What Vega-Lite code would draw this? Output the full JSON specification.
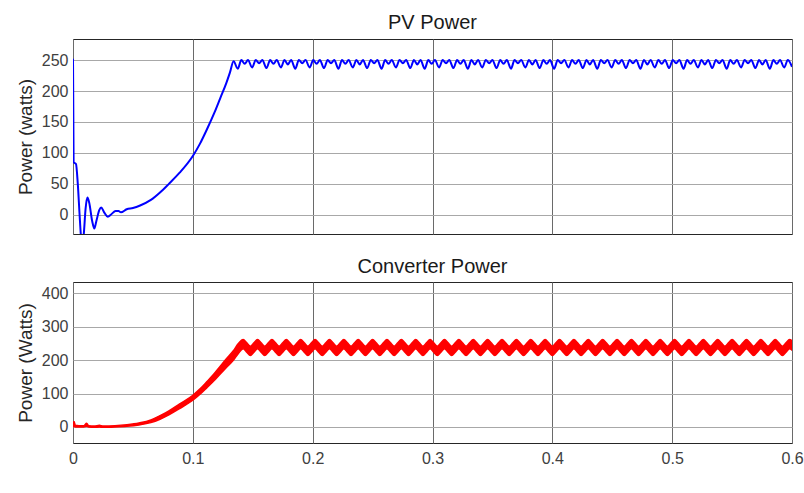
{
  "$schema": "https://vega.github.io/schema/vega-lite/v6.json",
  "padding": {"left": 15, "top": 12, "right": 10, "bottom": 5},
  "background": "white",
  "spacing": 21,
  "config": {
    "view": {"stroke": "#262626", "strokeWidth": 1},
    "font": "Liberation Sans",
    "axis": {
      "labelFont": "Liberation Sans",
      "labelFontSize": 16,
      "labelColor": "#404040",
      "titleFont": "Liberation Sans",
      "titleFontSize": 19,
      "titleFontWeight": "normal",
      "titleColor": "#262626",
      "ticks": false,
      "domain": false,
      "gridColor": "#a8a8a8",
      "gridOpacity": 1,
      "gridWidth": 1
    },
    "title": {"font": "Liberation Sans", "fontSize": 20, "fontWeight": "normal", "color": "#1a1a1a", "baseline": "alphabetic", "anchor": "middle"}
  },
  "datasets": {
    "pv": [
      {"t": 0, "p": 252}, {"t": 0.0005, "p": 85}, {"t": 0.0025, "p": 82}, {"t": 0.004, "p": 50},
      {"t": 0.0055, "p": 0}, {"t": 0.0065, "p": -31}, {"t": 0.0075, "p": -50}, {"t": 0.009, "p": -31},
      {"t": 0.0105, "p": 10}, {"t": 0.012, "p": 28}, {"t": 0.0135, "p": 20}, {"t": 0.016, "p": -10},
      {"t": 0.0178, "p": -22}, {"t": 0.0195, "p": -10}, {"t": 0.022, "p": 8}, {"t": 0.0235, "p": 12},
      {"t": 0.026, "p": 4}, {"t": 0.029, "p": -3}, {"t": 0.032, "p": 1}, {"t": 0.0355, "p": 6},
      {"t": 0.038, "p": 6}, {"t": 0.04, "p": 4}, {"t": 0.0448, "p": 9}, {"t": 0.05, "p": 11},
      {"t": 0.056, "p": 15}, {"t": 0.065, "p": 24}, {"t": 0.0726, "p": 36}, {"t": 0.08, "p": 50},
      {"t": 0.089, "p": 68}, {"t": 0.1, "p": 95}, {"t": 0.106, "p": 115}, {"t": 0.112, "p": 139},
      {"t": 0.118, "p": 165}, {"t": 0.123, "p": 189}, {"t": 0.128, "p": 213}, {"t": 0.131, "p": 230},
      {"t": 0.134, "p": 248},
      {"t": 0.1375, "p": 236}, {"t": 0.1405, "p": 250}, {"t": 0.1433, "p": 244}, {"t": 0.146, "p": 250},
      {"t": 0.1495, "p": 238}, {"t": 0.1525, "p": 250}, {"t": 0.1553, "p": 245}, {"t": 0.158, "p": 250},
      {"t": 0.1615, "p": 237}, {"t": 0.1645, "p": 250}, {"t": 0.1673, "p": 244}, {"t": 0.17, "p": 250},
      {"t": 0.1735, "p": 238}, {"t": 0.1765, "p": 250}, {"t": 0.1793, "p": 243}, {"t": 0.182, "p": 250},
      {"t": 0.1855, "p": 236}, {"t": 0.1885, "p": 250}, {"t": 0.1913, "p": 245}, {"t": 0.194, "p": 250},
      {"t": 0.1975, "p": 238}, {"t": 0.2005, "p": 250}, {"t": 0.2033, "p": 244}, {"t": 0.206, "p": 250},
      {"t": 0.2095, "p": 237}, {"t": 0.2125, "p": 250}, {"t": 0.2153, "p": 245}, {"t": 0.218, "p": 250},
      {"t": 0.2215, "p": 236}, {"t": 0.2245, "p": 250}, {"t": 0.2273, "p": 244}, {"t": 0.23, "p": 250},
      {"t": 0.2335, "p": 238}, {"t": 0.2365, "p": 250}, {"t": 0.2393, "p": 243}, {"t": 0.242, "p": 250},
      {"t": 0.2455, "p": 237}, {"t": 0.2485, "p": 250}, {"t": 0.2513, "p": 245}, {"t": 0.254, "p": 250},
      {"t": 0.2575, "p": 236}, {"t": 0.2605, "p": 250}, {"t": 0.2633, "p": 244}, {"t": 0.266, "p": 250},
      {"t": 0.2695, "p": 238}, {"t": 0.2725, "p": 250}, {"t": 0.2753, "p": 245}, {"t": 0.278, "p": 250},
      {"t": 0.2815, "p": 237}, {"t": 0.2845, "p": 250}, {"t": 0.2873, "p": 243}, {"t": 0.29, "p": 250},
      {"t": 0.2935, "p": 236}, {"t": 0.2965, "p": 250}, {"t": 0.2993, "p": 244}, {"t": 0.302, "p": 250},
      {"t": 0.3055, "p": 238}, {"t": 0.3085, "p": 250}, {"t": 0.3113, "p": 245}, {"t": 0.314, "p": 250},
      {"t": 0.3175, "p": 237}, {"t": 0.3205, "p": 250}, {"t": 0.3233, "p": 244}, {"t": 0.326, "p": 250},
      {"t": 0.3295, "p": 236}, {"t": 0.3325, "p": 250}, {"t": 0.3353, "p": 243}, {"t": 0.338, "p": 250},
      {"t": 0.3415, "p": 238}, {"t": 0.3445, "p": 250}, {"t": 0.3473, "p": 245}, {"t": 0.35, "p": 250},
      {"t": 0.3535, "p": 237}, {"t": 0.3565, "p": 250}, {"t": 0.3593, "p": 244}, {"t": 0.362, "p": 250},
      {"t": 0.3655, "p": 236}, {"t": 0.3685, "p": 250}, {"t": 0.3713, "p": 245}, {"t": 0.374, "p": 250},
      {"t": 0.3775, "p": 238}, {"t": 0.3805, "p": 250}, {"t": 0.3833, "p": 243}, {"t": 0.386, "p": 250},
      {"t": 0.3895, "p": 237}, {"t": 0.3925, "p": 250}, {"t": 0.3953, "p": 244}, {"t": 0.398, "p": 250},
      {"t": 0.4015, "p": 236}, {"t": 0.4045, "p": 250}, {"t": 0.4073, "p": 245}, {"t": 0.41, "p": 250},
      {"t": 0.4135, "p": 238}, {"t": 0.4165, "p": 250}, {"t": 0.4193, "p": 244}, {"t": 0.422, "p": 250},
      {"t": 0.4255, "p": 237}, {"t": 0.4285, "p": 250}, {"t": 0.4313, "p": 243}, {"t": 0.434, "p": 250},
      {"t": 0.4375, "p": 236}, {"t": 0.4405, "p": 250}, {"t": 0.4433, "p": 245}, {"t": 0.446, "p": 250},
      {"t": 0.4495, "p": 238}, {"t": 0.4525, "p": 250}, {"t": 0.4553, "p": 244}, {"t": 0.458, "p": 250},
      {"t": 0.4615, "p": 237}, {"t": 0.4645, "p": 250}, {"t": 0.4673, "p": 245}, {"t": 0.47, "p": 250},
      {"t": 0.4735, "p": 236}, {"t": 0.4765, "p": 250}, {"t": 0.4793, "p": 243}, {"t": 0.482, "p": 250},
      {"t": 0.4855, "p": 238}, {"t": 0.4885, "p": 250}, {"t": 0.4913, "p": 244}, {"t": 0.494, "p": 250},
      {"t": 0.4975, "p": 237}, {"t": 0.5005, "p": 250}, {"t": 0.5033, "p": 245}, {"t": 0.506, "p": 250},
      {"t": 0.5095, "p": 236}, {"t": 0.5125, "p": 250}, {"t": 0.5153, "p": 244}, {"t": 0.518, "p": 250},
      {"t": 0.5215, "p": 238}, {"t": 0.5245, "p": 250}, {"t": 0.5273, "p": 243}, {"t": 0.53, "p": 250},
      {"t": 0.5335, "p": 237}, {"t": 0.5365, "p": 250}, {"t": 0.5393, "p": 245}, {"t": 0.542, "p": 250},
      {"t": 0.5455, "p": 236}, {"t": 0.5485, "p": 250}, {"t": 0.5513, "p": 244}, {"t": 0.554, "p": 250},
      {"t": 0.5575, "p": 238}, {"t": 0.5605, "p": 250}, {"t": 0.5633, "p": 245}, {"t": 0.566, "p": 250},
      {"t": 0.5695, "p": 237}, {"t": 0.5725, "p": 250}, {"t": 0.5753, "p": 243}, {"t": 0.578, "p": 250},
      {"t": 0.5815, "p": 236}, {"t": 0.5845, "p": 250}, {"t": 0.5873, "p": 244}, {"t": 0.59, "p": 250},
      {"t": 0.5935, "p": 238}, {"t": 0.5965, "p": 250}, {"t": 0.6, "p": 239}
    ],
    "conv": [
      {"t": 0, "lo": 0, "hi": 6}, {"t": 0.0008, "lo": 2, "hi": 16}, {"t": 0.002, "lo": 0, "hi": 5},
      {"t": 0.005, "lo": 0, "hi": 4}, {"t": 0.009, "lo": 0, "hi": 4}, {"t": 0.0114, "lo": 2, "hi": 11},
      {"t": 0.013, "lo": 0, "hi": 4}, {"t": 0.018, "lo": -1, "hi": 3}, {"t": 0.022, "lo": 0, "hi": 5},
      {"t": 0.025, "lo": -1, "hi": 3}, {"t": 0.035, "lo": 0, "hi": 4}, {"t": 0.045, "lo": 2, "hi": 7},
      {"t": 0.055, "lo": 6, "hi": 12}, {"t": 0.065, "lo": 13, "hi": 21}, {"t": 0.0726, "lo": 23, "hi": 34},
      {"t": 0.08, "lo": 36, "hi": 48}, {"t": 0.089, "lo": 55, "hi": 69}, {"t": 0.1, "lo": 80, "hi": 95},
      {"t": 0.106, "lo": 98, "hi": 114}, {"t": 0.1116, "lo": 117, "hi": 135}, {"t": 0.117, "lo": 136, "hi": 156},
      {"t": 0.1227, "lo": 158, "hi": 181}, {"t": 0.128, "lo": 178, "hi": 204}, {"t": 0.1338, "lo": 200, "hi": 228},
      {"t": 0.138, "lo": 220, "hi": 250},
      {"t": 0.142, "lo": 234, "hi": 262}, {"t": 0.145, "lo": 224, "hi": 252}, {"t": 0.148, "lo": 214, "hi": 242}, {"t": 0.151, "lo": 224, "hi": 252},
      {"t": 0.154, "lo": 234, "hi": 262}, {"t": 0.157, "lo": 224, "hi": 252}, {"t": 0.16, "lo": 214, "hi": 242}, {"t": 0.163, "lo": 224, "hi": 252},
      {"t": 0.166, "lo": 234, "hi": 262}, {"t": 0.169, "lo": 224, "hi": 252}, {"t": 0.172, "lo": 214, "hi": 242}, {"t": 0.175, "lo": 224, "hi": 252},
      {"t": 0.178, "lo": 234, "hi": 262}, {"t": 0.181, "lo": 224, "hi": 252}, {"t": 0.184, "lo": 214, "hi": 242}, {"t": 0.187, "lo": 224, "hi": 252},
      {"t": 0.19, "lo": 234, "hi": 262}, {"t": 0.193, "lo": 224, "hi": 252}, {"t": 0.196, "lo": 214, "hi": 242}, {"t": 0.199, "lo": 224, "hi": 252},
      {"t": 0.202, "lo": 234, "hi": 262}, {"t": 0.205, "lo": 224, "hi": 252}, {"t": 0.208, "lo": 214, "hi": 242}, {"t": 0.211, "lo": 224, "hi": 252},
      {"t": 0.214, "lo": 234, "hi": 262}, {"t": 0.217, "lo": 224, "hi": 252}, {"t": 0.22, "lo": 214, "hi": 242}, {"t": 0.223, "lo": 224, "hi": 252},
      {"t": 0.226, "lo": 234, "hi": 262}, {"t": 0.229, "lo": 224, "hi": 252}, {"t": 0.232, "lo": 214, "hi": 242}, {"t": 0.235, "lo": 224, "hi": 252},
      {"t": 0.238, "lo": 234, "hi": 262}, {"t": 0.241, "lo": 224, "hi": 252}, {"t": 0.244, "lo": 214, "hi": 242}, {"t": 0.247, "lo": 224, "hi": 252},
      {"t": 0.25, "lo": 234, "hi": 262}, {"t": 0.253, "lo": 224, "hi": 252}, {"t": 0.256, "lo": 214, "hi": 242}, {"t": 0.259, "lo": 224, "hi": 252},
      {"t": 0.262, "lo": 234, "hi": 262}, {"t": 0.265, "lo": 224, "hi": 252}, {"t": 0.268, "lo": 214, "hi": 242}, {"t": 0.271, "lo": 224, "hi": 252},
      {"t": 0.274, "lo": 234, "hi": 262}, {"t": 0.277, "lo": 224, "hi": 252}, {"t": 0.28, "lo": 214, "hi": 242}, {"t": 0.283, "lo": 224, "hi": 252},
      {"t": 0.286, "lo": 234, "hi": 262}, {"t": 0.289, "lo": 224, "hi": 252}, {"t": 0.292, "lo": 214, "hi": 242}, {"t": 0.295, "lo": 224, "hi": 252},
      {"t": 0.298, "lo": 234, "hi": 262}, {"t": 0.301, "lo": 224, "hi": 252}, {"t": 0.304, "lo": 214, "hi": 242}, {"t": 0.307, "lo": 224, "hi": 252},
      {"t": 0.31, "lo": 234, "hi": 262}, {"t": 0.313, "lo": 224, "hi": 252}, {"t": 0.316, "lo": 214, "hi": 242}, {"t": 0.319, "lo": 224, "hi": 252},
      {"t": 0.322, "lo": 234, "hi": 262}, {"t": 0.325, "lo": 224, "hi": 252}, {"t": 0.328, "lo": 214, "hi": 242}, {"t": 0.331, "lo": 224, "hi": 252},
      {"t": 0.334, "lo": 234, "hi": 262}, {"t": 0.337, "lo": 224, "hi": 252}, {"t": 0.34, "lo": 214, "hi": 242}, {"t": 0.343, "lo": 224, "hi": 252},
      {"t": 0.346, "lo": 234, "hi": 262}, {"t": 0.349, "lo": 224, "hi": 252}, {"t": 0.352, "lo": 214, "hi": 242}, {"t": 0.355, "lo": 224, "hi": 252},
      {"t": 0.358, "lo": 234, "hi": 262}, {"t": 0.361, "lo": 224, "hi": 252}, {"t": 0.364, "lo": 214, "hi": 242}, {"t": 0.367, "lo": 224, "hi": 252},
      {"t": 0.37, "lo": 234, "hi": 262}, {"t": 0.373, "lo": 224, "hi": 252}, {"t": 0.376, "lo": 214, "hi": 242}, {"t": 0.379, "lo": 224, "hi": 252},
      {"t": 0.382, "lo": 234, "hi": 262}, {"t": 0.385, "lo": 224, "hi": 252}, {"t": 0.388, "lo": 214, "hi": 242}, {"t": 0.391, "lo": 224, "hi": 252},
      {"t": 0.394, "lo": 234, "hi": 262}, {"t": 0.397, "lo": 224, "hi": 252}, {"t": 0.4, "lo": 214, "hi": 242}, {"t": 0.403, "lo": 224, "hi": 252},
      {"t": 0.406, "lo": 234, "hi": 262}, {"t": 0.409, "lo": 224, "hi": 252}, {"t": 0.412, "lo": 214, "hi": 242}, {"t": 0.415, "lo": 224, "hi": 252},
      {"t": 0.418, "lo": 234, "hi": 262}, {"t": 0.421, "lo": 224, "hi": 252}, {"t": 0.424, "lo": 214, "hi": 242}, {"t": 0.427, "lo": 224, "hi": 252},
      {"t": 0.43, "lo": 234, "hi": 262}, {"t": 0.433, "lo": 224, "hi": 252}, {"t": 0.436, "lo": 214, "hi": 242}, {"t": 0.439, "lo": 224, "hi": 252},
      {"t": 0.442, "lo": 234, "hi": 262}, {"t": 0.445, "lo": 224, "hi": 252}, {"t": 0.448, "lo": 214, "hi": 242}, {"t": 0.451, "lo": 224, "hi": 252},
      {"t": 0.454, "lo": 234, "hi": 262}, {"t": 0.457, "lo": 224, "hi": 252}, {"t": 0.46, "lo": 214, "hi": 242}, {"t": 0.463, "lo": 224, "hi": 252},
      {"t": 0.466, "lo": 234, "hi": 262}, {"t": 0.469, "lo": 224, "hi": 252}, {"t": 0.472, "lo": 214, "hi": 242}, {"t": 0.475, "lo": 224, "hi": 252},
      {"t": 0.478, "lo": 234, "hi": 262}, {"t": 0.481, "lo": 224, "hi": 252}, {"t": 0.484, "lo": 214, "hi": 242}, {"t": 0.487, "lo": 224, "hi": 252},
      {"t": 0.49, "lo": 234, "hi": 262}, {"t": 0.493, "lo": 224, "hi": 252}, {"t": 0.496, "lo": 214, "hi": 242}, {"t": 0.499, "lo": 224, "hi": 252},
      {"t": 0.502, "lo": 234, "hi": 262}, {"t": 0.505, "lo": 224, "hi": 252}, {"t": 0.508, "lo": 214, "hi": 242}, {"t": 0.511, "lo": 224, "hi": 252},
      {"t": 0.514, "lo": 234, "hi": 262}, {"t": 0.517, "lo": 224, "hi": 252}, {"t": 0.52, "lo": 214, "hi": 242}, {"t": 0.523, "lo": 224, "hi": 252},
      {"t": 0.526, "lo": 234, "hi": 262}, {"t": 0.529, "lo": 224, "hi": 252}, {"t": 0.532, "lo": 214, "hi": 242}, {"t": 0.535, "lo": 224, "hi": 252},
      {"t": 0.538, "lo": 234, "hi": 262}, {"t": 0.541, "lo": 224, "hi": 252}, {"t": 0.544, "lo": 214, "hi": 242}, {"t": 0.547, "lo": 224, "hi": 252},
      {"t": 0.55, "lo": 234, "hi": 262}, {"t": 0.553, "lo": 224, "hi": 252}, {"t": 0.556, "lo": 214, "hi": 242}, {"t": 0.559, "lo": 224, "hi": 252},
      {"t": 0.562, "lo": 234, "hi": 262}, {"t": 0.565, "lo": 224, "hi": 252}, {"t": 0.568, "lo": 214, "hi": 242}, {"t": 0.571, "lo": 224, "hi": 252},
      {"t": 0.574, "lo": 234, "hi": 262}, {"t": 0.577, "lo": 224, "hi": 252}, {"t": 0.58, "lo": 214, "hi": 242}, {"t": 0.583, "lo": 224, "hi": 252},
      {"t": 0.586, "lo": 234, "hi": 262}, {"t": 0.589, "lo": 224, "hi": 252}, {"t": 0.592, "lo": 214, "hi": 242}, {"t": 0.595, "lo": 224, "hi": 252},
      {"t": 0.598, "lo": 234, "hi": 262}, {"t": 0.6, "lo": 230, "hi": 258}
    ]
  },
  "vconcat": [
    {
      "title": {"text": "PV Power", "offset": 6},
      "width": 719,
      "height": 195,
      "data": {"name": "pv"},
      "mark": {"type": "line", "color": "#0000ff", "strokeWidth": 2, "clip": true, "interpolate": "monotone"},
      "encoding": {
        "x": {
          "field": "t", "type": "quantitative",
          "scale": {"domain": [0, 0.6], "nice": false},
          "axis": {"values": [0, 0.1, 0.2, 0.3, 0.4, 0.5, 0.6], "labels": false, "title": null, "gridColor": "#6a6a6a"}
        },
        "y": {
          "field": "p", "type": "quantitative",
          "scale": {"domain": [-31, 284], "nice": false, "zero": false},
          "axis": {"values": [0, 50, 100, 150, 200, 250], "title": "Power (watts)", "titlePadding": 6, "labelPadding": 5}
        }
      }
    },
    {
      "title": {"text": "Converter Power", "offset": 5},
      "width": 719,
      "height": 161,
      "data": {"name": "conv"},
      "mark": {"type": "area", "color": "#ff0000", "stroke": "#ff0000", "strokeWidth": 1.5, "clip": true, "interpolate": "monotone"},
      "encoding": {
        "x": {
          "field": "t", "type": "quantitative",
          "scale": {"domain": [0, 0.6], "nice": false},
          "axis": {"values": [0, 0.1, 0.2, 0.3, 0.4, 0.5, 0.6], "format": "~g", "title": null, "labelPadding": 7, "gridColor": "#6a6a6a", "labelFlush": false}
        },
        "y": {
          "field": "lo", "type": "quantitative",
          "scale": {"domain": [-48, 434], "nice": false, "zero": false},
          "axis": {"values": [0, 100, 200, 300, 400], "title": "Power (Watts)", "titlePadding": 6, "labelPadding": 5}
        },
        "y2": {"field": "hi"}
      }
    }
  ]
}
